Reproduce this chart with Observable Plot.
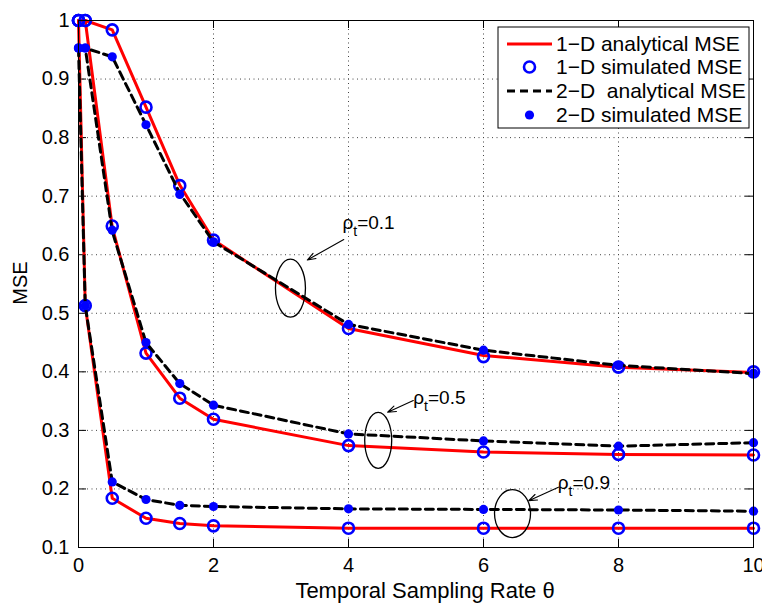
<!DOCTYPE html>
<html>
<head>
<meta charset="utf-8">
<script src="https://cdn.jsdelivr.net/npm/d3@7"></script>
<script src="https://cdn.jsdelivr.net/npm/@observablehq/plot@0.6"></script>
<style>
  html, body { margin: 0; padding: 0; background: #fff; }
  #chart { position: relative; width: 762px; height: 606px; }
  svg text { font-family: "Liberation Sans", Arial, Helvetica, sans-serif; }
</style>
</head>
<body>
<div id="chart"></div>
<script>
// ---- data ----
const thetas = [0, 0.1, 0.5, 1, 1.5, 2, 4, 6, 8, 10];

const rho01_analytical1D = [1.000, 1.000, 0.984, 0.852, 0.719, 0.625, 0.474, 0.428, 0.408, 0.399];
const rho01_simulated1D  = [1.000, 1.000, 0.984, 0.852, 0.718, 0.625, 0.474, 0.426, 0.408, 0.400];
const rho01_analytical2D = [0.953, 0.953, 0.938, 0.822, 0.705, 0.622, 0.481, 0.437, 0.411, 0.397];
const rho01_simulated2D  = [0.953, 0.953, 0.938, 0.822, 0.703, 0.622, 0.481, 0.437, 0.411, 0.398];

const rho05_analytical1D = [1.000, 1.000, 0.647, 0.432, 0.355, 0.319, 0.274, 0.263, 0.259, 0.258];
const rho05_simulated1D  = [1.000, 1.000, 0.649, 0.432, 0.355, 0.319, 0.274, 0.263, 0.259, 0.258];
const rho05_analytical2D = [0.953, 0.953, 0.640, 0.450, 0.380, 0.343, 0.294, 0.282, 0.273, 0.279];
const rho05_simulated2D  = [0.953, 0.953, 0.642, 0.450, 0.380, 0.343, 0.294, 0.282, 0.273, 0.279];

const rho09_analytical1D = [1.000, 0.513, 0.184, 0.150, 0.141, 0.137, 0.133, 0.133, 0.133, 0.133];
const rho09_simulated1D  = [1.000, 0.513, 0.184, 0.150, 0.141, 0.137, 0.133, 0.133, 0.133, 0.133];
const rho09_analytical2D = [0.953, 0.513, 0.212, 0.182, 0.172, 0.170, 0.166, 0.165, 0.164, 0.162];
const rho09_simulated2D  = [0.953, 0.513, 0.212, 0.182, 0.172, 0.170, 0.166, 0.165, 0.164, 0.162];

const xTicks = [0, 2, 4, 6, 8, 10];
const yTicks = [0.1, 0.2, 0.3, 0.4, 0.5, 0.6, 0.7, 0.8, 0.9, 1.0];

const legendLabels = ["1\u2212D analytical MSE", "1\u2212D simulated MSE", "2\u2212D  analytical MSE", "2\u2212D simulated MSE"];

// annotations (data coordinates)
const rhoValues = ["0.1", "0.5", "0.9"];
const ellipseX = [3.14, 4.44, 6.43];
const ellipseY = [0.543, 0.283, 0.158];
const arrowX1 = [3.93, 4.96, 7.11];
const arrowY1 = [0.626, 0.351, 0.203];
const arrowX2 = [3.39, 4.58, 6.67];
const arrowY2 = [0.591, 0.331, 0.180];
const labelX = [3.91, 4.96, 7.10];
const labelY = [0.654, 0.356, 0.211];

// ---- build tables ----
function rows(values, rho) { return thetas.map((x, i) => ({x, y: values[i], rho})); }
const analytical1D = [...rows(rho01_analytical1D, "0.1"), ...rows(rho05_analytical1D, "0.5"), ...rows(rho09_analytical1D, "0.9")];
const simulated1D  = [...rows(rho01_simulated1D, "0.1"), ...rows(rho05_simulated1D, "0.5"), ...rows(rho09_simulated1D, "0.9")];
const analytical2D = [...rows(rho01_analytical2D, "0.1"), ...rows(rho05_analytical2D, "0.5"), ...rows(rho09_analytical2D, "0.9")];
const simulated2D  = [...rows(rho01_simulated2D, "0.1"), ...rows(rho05_simulated2D, "0.5"), ...rows(rho09_simulated2D, "0.9")];

const annotations = rhoValues.map((r, i) => ({
  rho: r, ex: ellipseX[i], ey: ellipseY[i],
  x1: arrowX1[i], y1: arrowY1[i], x2: arrowX2[i], y2: arrowY2[i],
  lx: labelX[i], ly: labelY[i]
}));

function ellipseSymbol(rx, ry) {
  const k = 0.5523;
  return {
    draw(ctx) {
      ctx.moveTo(rx, 0);
      ctx.bezierCurveTo(rx, ry * k, rx * k, ry, 0, ry);
      ctx.bezierCurveTo(-rx * k, ry, -rx, ry * k, -rx, 0);
      ctx.bezierCurveTo(-rx, -ry * k, -rx * k, -ry, 0, -ry);
      ctx.bezierCurveTo(rx * k, -ry, rx, -ry * k, rx, 0);
      ctx.closePath();
    }
  };
}
const ellipseSizes = [[15, 29], [13.5, 28], [18, 24]];

const W = 762, H = 606, mL = 78, mR = 9, mT = 20, mB = 59;
const plotW = W - mL - mR, plotH = H - mT - mB;
const BLUE = "#0000ff", RED = "#ff0000";

const svg = Plot.plot({
  width: W, height: H,
  marginLeft: mL, marginRight: mR, marginTop: mT, marginBottom: mB,
  style: {fontSize: "20px", fontFamily: "'Liberation Sans', Arial, Helvetica, sans-serif", color: "#000", background: "#fff"},
  x: {domain: [0, 10], ticks: xTicks, tickSize: 0, tickPadding: 10, label: null},
  y: {domain: [0.1, 1], ticks: yTicks, tickSize: 0, tickPadding: 9, label: null,
      tickFormat: d => (Math.abs(d - 1) < 1e-9 ? "1" : d.toFixed(1))},
  marks: [
    // dotted grid
    Plot.ruleX(xTicks, {x: d => d, stroke: "#444", strokeWidth: 1, strokeDasharray: "1,3.5"}),
    Plot.ruleY(yTicks, {y: d => d, stroke: "#444", strokeWidth: 1, strokeDasharray: "1,3.5"}),
    // inward tick marks (bottom, top, left, right)
    Plot.tickX(xTicks, {x: d => d, insetTop: plotH - 8, stroke: "#000"}),
    Plot.tickX(xTicks, {x: d => d, insetBottom: plotH - 8, stroke: "#000"}),
    Plot.tickY(yTicks, {y: d => d, insetRight: plotW - 8, stroke: "#000"}),
    Plot.tickY(yTicks, {y: d => d, insetLeft: plotW - 8, stroke: "#000"}),
    // series
    Plot.line(analytical1D, {x: "x", y: "y", z: "rho", stroke: RED, strokeWidth: 3}),
    Plot.dot(simulated1D, {x: "x", y: "y", r: 5.5, stroke: BLUE, strokeWidth: 2.6, fill: "none"}),
    Plot.line(analytical2D, {x: "x", y: "y", z: "rho", stroke: "#000", strokeWidth: 3, strokeDasharray: "8,5"}),
    Plot.dot(simulated2D, {x: "x", y: "y", r: 4.6, fill: BLUE, stroke: "none"}),
    // annotations
    ...annotations.map((a, i) => Plot.dot([a], {x: "ex", y: "ey", symbol: ellipseSymbol(...ellipseSizes[i]), r: 10, stroke: "#000", strokeWidth: 1.3, fill: "none"})),
    Plot.arrow(annotations, {x1: "x1", y1: "y1", x2: "x2", y2: "y2", stroke: "#000", strokeWidth: 1.1, headLength: 12, headAngle: 40}),
    Plot.text(annotations, {x: "lx", y: "ly", text: d => "\u03c1t=" + d.rho, textAnchor: "start", fontSize: 19, fill: "#000"}),
    Plot.frame({stroke: "#000", strokeWidth: 1})
  ]
});

document.getElementById("chart").appendChild(svg);

// subscript t in the rho labels
d3.select(svg).selectAll("text").each(function() {
  const t = d3.select(this);
  const content = t.text();
  const m = /^\u03c1t=(.*)$/.exec(content);
  if (!m) return;
  t.text(null);
  t.append("tspan").text("\u03c1");
  t.append("tspan").attr("dy", 7).attr("font-size", 14).text("t");
  t.append("tspan").attr("dy", -7).text("=" + m[1]);
});

// axis titles
const s = d3.select(svg);
s.append("text")
  .attr("x", 425).attr("y", 590).attr("dy", "0.35em")
  .attr("text-anchor", "middle").attr("font-size", 22).attr("fill", "#000")
  .text("Temporal Sampling Rate \u03b8");
s.append("text")
  .attr("transform", "translate(20,283) rotate(-90)").attr("dy", "0.35em")
  .attr("text-anchor", "middle").attr("font-size", 20).attr("fill", "#000")
  .text("MSE");

// legend
const lg = s.append("g").attr("class", "legend").attr("text-anchor", "start");
const LX = 498, LY = 27, LW = 251, LH = 101;
lg.append("rect").attr("x", LX).attr("y", LY).attr("width", LW).attr("height", LH)
  .attr("fill", "#fff").attr("stroke", "#000").attr("stroke-width", 1);
const rowY = [44, 67, 91, 115];
const sx1 = 507, sx2 = 552, scx = 529.5;
lg.append("line").attr("x1", sx1).attr("x2", sx2).attr("y1", rowY[0]).attr("y2", rowY[0])
  .attr("stroke", RED).attr("stroke-width", 3);
lg.append("circle").attr("cx", scx).attr("cy", rowY[1]).attr("r", 5.5)
  .attr("fill", "none").attr("stroke", BLUE).attr("stroke-width", 2.6);
lg.append("line").attr("x1", sx1).attr("x2", sx2).attr("y1", rowY[2]).attr("y2", rowY[2])
  .attr("stroke", "#000").attr("stroke-width", 3).attr("stroke-dasharray", "8,5");
lg.append("circle").attr("cx", scx).attr("cy", rowY[3]).attr("r", 4.6).attr("fill", BLUE);
legendLabels.forEach((label, i) => {
  lg.append("text").attr("x", 556).attr("y", rowY[i]).attr("dy", "0.35em")
    .attr("text-anchor", "start")
    .attr("font-size", 21).attr("fill", "#000").style("white-space", "pre")
    .text(label);
});
</script>
</body>
</html>
